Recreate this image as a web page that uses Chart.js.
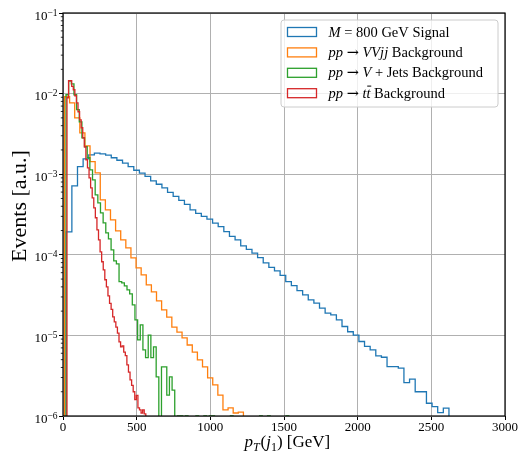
<!DOCTYPE html>
<html>
<head>
<meta charset="utf-8">
<title>Leading jet transverse momentum</title>
<script src="https://cdn.jsdelivr.net/npm/chart.js@4.4.1/dist/chart.umd.min.js"></script>
<style>
  html, body { margin: 0; padding: 0; background: #ffffff; }
  canvas { display: block; }
</style>
</head>
<body>
<canvas id="ptChart" width="519" height="457"></canvas>
<script>
// Leading-jet pT spectra, normalised event fraction per bin (step histograms)
const SERIF = "'Liberation Serif', 'DejaVu Serif', serif";
const SYMBOL = "'DejaVu Serif', serif";

// M = 800 GeV signal
const signalBinStart = 22;
const signalBinWidth = 38.2;
const signalValues = [
  1.93e-4, 7.18e-4, 1.24e-3, 1.55e-3, 1.74e-3, 1.83e-3, 1.79e-3, 1.72e-3, 1.60e-3, 1.49e-3,
  1.37e-3, 1.24e-3, 1.12e-3, 1.03e-3, 9.4e-4, 8.28e-4, 7.5e-4, 6.78e-4, 5.96e-4, 5.32e-4,
  4.74e-4, 4.23e-4, 3.61e-4, 3.27e-4, 2.99e-4, 2.77e-4, 2.47e-4, 2.24e-4, 1.94e-4, 1.69e-4,
  1.53e-4, 1.29e-4, 1.17e-4, 1.05e-4, 9.2e-5, 7.94e-5, 6.98e-5, 6.32e-5, 5.56e-5, 4.66e-5,
  4.15e-5, 3.6e-5, 3.18e-5, 2.76e-5, 2.51e-5, 2.18e-5, 1.89e-5, 1.8e-5, 1.56e-5, 1.29e-5,
  1.11e-5, 1.01e-5, 8.4e-6, 7.3e-6, 6.6e-6, 5.57e-6, 5.36e-6, 4.1e-6, 4.1e-6, 3.92e-6,
  2.6e-6, 2.86e-6, 2.0e-6, 2.0e-6, 1.44e-6, 1.31e-6, 1.1e-6, 1.25e-6
];

// pp -> VVjj background
const vvjjBinStart = 10;
const vvjjBinWidth = 34.7;
const vvjjValues = [
  9.14e-3, 7.69e-3, 5.01e-3, 3.26e-3, 2.25e-3, 1.43e-3, 1.04e-3, 4.81e-4, 3.61e-4, 2.71e-4,
  1.98e-4, 1.53e-4, 1.22e-4, 9.16e-5, 6.88e-5, 5.63e-5, 4.23e-5, 3.47e-5, 2.68e-5, 2.07e-5,
  1.69e-5, 1.27e-5, 1.1e-5, 9.3e-6, 7.6e-6, 6.2e-6, 4.97e-6, 4.06e-6, 2.97e-6, 2.43e-6,
  1.82e-6, 1.19e-6, 1.26e-6, 1.09e-6, 1.12e-6
];

// pp -> V + jets background (empty bins are 0)
const vjetsBinStart = 20.4;
const vjetsBinWidth = 18;
const vjetsValues = [
  9.68e-3, 1.443e-2, 1.32e-2, 9.68e-3, 6.31e-3, 4.47e-3, 2.83e-3, 2.19e-3, 1.6e-3, 1.13e-3,
  8.5e-4, 5.55e-4, 4.42e-4, 3.32e-4, 2.49e-4, 1.87e-4, 1.58e-4, 1.15e-4, 8.4e-5, 7.7e-5,
  4.66e-5, 4.49e-5, 4.12e-5, 3.67e-5, 3.28e-5, 2.39e-5, 1.56e-5, 8.8e-6, 1.35e-5, 6.6e-6,
  5.3e-6, 1.01e-5, 5.3e-6, 7.2e-6, 3.06e-6, 0, 4.07e-6, 4.07e-6, 1.82e-6, 3.06e-6,
  2.1e-6, 0, 1e-6, 1e-6, 0, 1e-6, 0, 0, 0, 1e-6,
  0, 0, 1e-6, 0, 1e-6, 1e-6, 0, 0, 0, 0,
  0, 0, 1e-6, 0, 0, 0, 0, 0, 0, 0,
  0, 0, 0, 1e-6, 0, 0, 1e-6, 0, 0, 0,
  0, 0, 0, 1e-6
];

// pp -> ttbar background
const ttbarBinStart = 27;
const ttbarBinWidth = 10.7;
const ttbarValues = [
  8.88e-3, 1.443e-2, 1.443e-2, 1.227e-2, 1.117e-2, 9.4e-3, 7.69e-3, 5.95e-3, 4.73e-3, 3.77e-3,
  2.83e-3, 2.19e-3, 1.51e-3, 1.2e-3, 9.02e-4, 6.78e-4, 5.09e-4, 3.83e-4, 2.88e-4, 2.04e-4,
  1.53e-4, 1.09e-4, 8.2e-5, 6.5e-5, 4.9e-5, 4.0e-5, 3.1e-5, 2.5e-5, 2.1e-5, 1.7e-5,
  1.47e-5, 1.27e-5, 1.07e-5, 8.3e-6, 7.2e-6, 7.4e-6, 6.2e-6, 5.6e-6, 4.3e-6, 3.5e-6,
  2.8e-6, 2.4e-6, 2.0e-6, 1.6e-6, 1.8e-6, 1.26e-6, 1.19e-6, 1.09e-6, 1.19e-6, 1.06e-6
];

const xTickValues = [0, 500, 1000, 1500, 2000, 2500, 3000];
const yTickValues = [1e-6, 1e-5, 1e-4, 1e-3, 1e-2, 1e-1];
const seriesColors = ['#1f77b4', '#ff7f0e', '#2ca02c', '#d62728'];

// Legend entries: [text, style] runs; style 'm' = math italic, 'r' = roman, 's' = symbol
const legendEntries = [
  [['M', 'm'], [' = 800 GeV Signal', 'r']],
  [['pp', 'm'], [' ', 'r'], ['\u2192', 's'], [' ', 'r'], ['VVjj', 'm'], [' Background', 'r']],
  [['pp', 'm'], [' ', 'r'], ['\u2192', 's'], [' ', 'r'], ['V', 'm'], [' + Jets Background', 'r']],
  [['pp', 'm'], [' ', 'r'], ['\u2192', 's'], [' ', 'r'], ['tt', 'm', 'bar'], [' Background', 'r']]
];

// Empty bins sit far below the axis floor so their outline is clipped away
const EMPTY_LEVEL = 1e-9;

function stepOutline(start, width, values) {
  const pts = [{ x: start, y: EMPTY_LEVEL }];
  values.forEach((v, i) => {
    const level = v > 0 ? v : EMPTY_LEVEL;
    pts.push({ x: start + i * width, y: level });
    pts.push({ x: start + (i + 1) * width, y: level });
  });
  pts.push({ x: start + values.length * width, y: EMPTY_LEVEL });
  return pts;
}

function histDataset(label, start, width, values, color, order) {
  return {
    label,
    data: stepOutline(start, width, values),
    borderColor: color,
    backgroundColor: color,
    borderWidth: 1.3,
    pointRadius: 0,
    pointHoverRadius: 0,
    fill: false,
    tension: 0,
    order
  };
}

function runFont(style, size) {
  if (style === 'm') return 'italic ' + size + 'px ' + SERIF;
  if (style === 's') return size + 'px ' + SYMBOL;
  return size + 'px ' + SERIF;
}

function drawRuns(ctx, runs, x, baseline, size) {
  let cx = x;
  runs.forEach(([text, style, deco]) => {
    ctx.font = runFont(style, size);
    ctx.fillText(text, cx, baseline);
    const w = ctx.measureText(text).width;
    if (deco === 'bar') {
      const tw = ctx.measureText('t').width;
      ctx.save();
      ctx.lineWidth = 1;
      ctx.beginPath();
      ctx.moveTo(cx + w - tw + 0.8, baseline - size * 0.8);
      ctx.lineTo(cx + w + 0.8, baseline - size * 0.8);
      ctx.stroke();
      ctx.restore();
    }
    cx += w;
  });
  return cx - x;
}

const decorPlugin = {
  id: 'decor',
  afterDraw(chart) {
    const { ctx, chartArea: a, scales } = chart;
    const ys = scales.y;
    ctx.save();

    // minor log ticks on the left spine
    ctx.strokeStyle = '#000';
    ctx.lineWidth = 0.8;
    for (let e = -6; e < -1; e++) {
      for (let m = 2; m <= 9; m++) {
        const py = ys.getPixelForValue(m * Math.pow(10, e));
        ctx.beginPath();
        ctx.moveTo(a.left - 2.2, py);
        ctx.lineTo(a.left, py);
        ctx.stroke();
      }
    }

    // axes frame
    ctx.lineWidth = 1.2;
    ctx.strokeRect(a.left, a.top, a.right - a.left, a.bottom - a.top);

    // y tick labels as powers of ten
    ctx.fillStyle = '#000';
    ctx.textBaseline = 'alphabetic';
    ctx.textAlign = 'right';
    yTickValues.forEach(v => {
      const py = ys.getPixelForValue(v);
      const ex = Math.round(Math.log10(v));
      const sup = (ex < 0 ? '\u2212' : '') + Math.abs(ex);
      ctx.font = '9.5px ' + SERIF;
      const sw = ctx.measureText(sup).width;
      const right = a.left - 5.5;
      ctx.fillText(sup, right, py + 2.6);
      ctx.font = '13px ' + SERIF;
      ctx.fillText('10', right - sw, py + 6.5);
    });

    // y axis title
    ctx.save();
    ctx.translate(25.5, 206);
    ctx.rotate(-Math.PI / 2);
    ctx.textAlign = 'center';
    ctx.font = '22px ' + SERIF;
    ctx.fillText('Events [a.u.]', 0, 0);
    ctx.restore();

    // x axis title: p_T(j_1) [GeV]
    ctx.textAlign = 'left';
    const xRuns = [
      ['p', 'italic 17px', 0], ['T', 'italic 12px', 3.5], ['(', '17px', 0],
      ['j', 'italic 17px', 0], ['1', '12px', 3.5], [') [GeV]', '17px', 0]
    ];
    let total = 0;
    xRuns.forEach(r => { ctx.font = r[1] + ' ' + SERIF; total += ctx.measureText(r[0]).width; });
    let cx = (a.left + a.right) / 2 + 3 - total / 2;
    const xBase = 447;
    xRuns.forEach(r => {
      ctx.font = r[1] + ' ' + SERIF;
      ctx.fillText(r[0], cx, xBase + r[2]);
      cx += ctx.measureText(r[0]).width + (r[0] === 'T' ? 0.8 : 0);
    });

    // legend
    const lx = 281, ly = 20, lw = 217, lh = 87, rad = 3;
    ctx.beginPath();
    ctx.moveTo(lx + rad, ly);
    ctx.arcTo(lx + lw, ly, lx + lw, ly + lh, rad);
    ctx.arcTo(lx + lw, ly + lh, lx, ly + lh, rad);
    ctx.arcTo(lx, ly + lh, lx, ly, rad);
    ctx.arcTo(lx, ly, lx + lw, ly, rad);
    ctx.closePath();
    ctx.fillStyle = 'rgba(255,255,255,0.8)';
    ctx.fill();
    ctx.strokeStyle = '#cccccc';
    ctx.lineWidth = 1;
    ctx.stroke();

    legendEntries.forEach((runs, i) => {
      const cy = 32 + i * 20.4;
      ctx.strokeStyle = seriesColors[i];
      ctx.lineWidth = 1.3;
      ctx.strokeRect(287.5, cy - 4.5, 29, 9);
      ctx.fillStyle = '#000';
      ctx.strokeStyle = '#000';
      drawRuns(ctx, runs, 328.5, cy + 4.5, 14.5);
    });

    ctx.restore();
  }
};

new Chart(document.getElementById('ptChart'), {
  type: 'line',
  data: {
    datasets: [
      histDataset('M = 800 GeV Signal', signalBinStart, signalBinWidth, signalValues, seriesColors[0], 4),
      histDataset('pp \u2192 VVjj Background', vvjjBinStart, vvjjBinWidth, vvjjValues, seriesColors[1], 3),
      histDataset('pp \u2192 V + Jets Background', vjetsBinStart, vjetsBinWidth, vjetsValues, seriesColors[2], 2),
      histDataset('pp \u2192 t\u0304t Background', ttbarBinStart, ttbarBinWidth, ttbarValues, seriesColors[3], 1)
    ]
  },
  options: {
    responsive: false,
    animation: false,
    devicePixelRatio: 1,
    events: [],
    layout: { padding: { top: 13, right: 14, left: 0, bottom: 0 } },
    plugins: { legend: { display: false }, tooltip: { enabled: false }, title: { display: false } },
    scales: {
      x: {
        type: 'linear',
        min: 0,
        max: 3000,
        afterBuildTicks: s => { s.ticks = xTickValues.map(v => ({ value: v })); },
        afterFit: s => { s.height = 41; },
        grid: { color: '#b0b0b0', lineWidth: 1, tickColor: '#000', tickLength: 4, tickWidth: 1 },
        border: { display: false },
        ticks: {
          autoSkip: false, maxRotation: 0, padding: 0,
          color: '#000', font: { family: SERIF, size: 13 },
          callback: v => String(v)
        }
      },
      y: {
        type: 'logarithmic',
        min: 1e-6,
        max: 1e-1,
        afterBuildTicks: s => { s.ticks = yTickValues.map(v => ({ value: v, major: true })); },
        afterFit: s => { s.width = 63; },
        grid: { color: '#b0b0b0', lineWidth: 1, tickColor: '#000', tickLength: 4, tickWidth: 1 },
        border: { display: false },
        ticks: { callback: () => '', padding: 0 }
      }
    }
  },
  plugins: [decorPlugin]
});
</script>
</body>
</html>
